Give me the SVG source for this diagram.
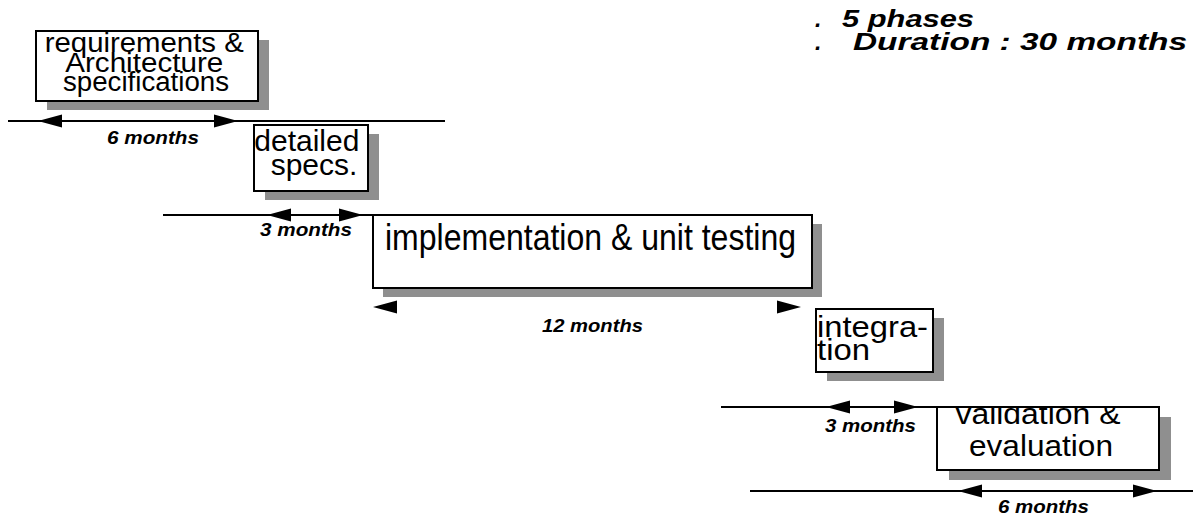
<svg xmlns="http://www.w3.org/2000/svg" width="1193" height="518" viewBox="0 0 1193 518">
  <style>
    .shadow { fill: #8f8f8f; }
    .box { fill: #ffffff; stroke: #000000; stroke-width: 2; }
    .t { font-family: "Liberation Sans", Arial, sans-serif; fill: #000000; }
    .lbl { font-family: "Liberation Sans", Arial, sans-serif; font-weight: bold; font-style: italic; font-size: 18px; fill: #000000; }
    .hdr { font-family: "Liberation Sans", Arial, sans-serif; font-weight: bold; font-style: italic; font-size: 23px; fill: #000000; }
    .ln { stroke: #000000; stroke-width: 2; fill: none; }
  </style>
  <defs>
    <!-- filled arrowhead, tip at origin, pointing right -->
    <path id="ah" d="M0,0 L-24,-6.5 L-24,6.5 Z" fill="#000000"/>
    <!-- the validation box cuts off whatever of its label rises above its top edge -->
    <clipPath id="validation-clip">
      <rect x="930" y="407" width="240" height="70"/>
    </clipPath>
  </defs>

  <rect x="0" y="0" width="1193" height="518" fill="#ffffff"/>

  <!-- summary -->
  <g id="summary">
    <text class="hdr" y="27"><tspan x="815">.</tspan><tspan x="842" textLength="132" lengthAdjust="spacingAndGlyphs">5 phases</tspan></text>
    <text class="hdr" y="50"><tspan x="815">.</tspan><tspan x="853" textLength="334" lengthAdjust="spacingAndGlyphs">Duration : 30 months</tspan></text>
  </g>

  <!-- phase boxes -->
  <g id="requirements">
    <rect class="shadow" x="47" y="40" width="222" height="70"/>
    <rect class="box" x="36" y="31" width="222" height="70"/>
    <text class="t" font-size="27" text-anchor="middle">
      <tspan x="148" y="52" textLength="199" lengthAdjust="spacingAndGlyphs">requirements &amp;</tspan>
      <tspan x="148" y="72" textLength="158" lengthAdjust="spacingAndGlyphs">Architecture</tspan>
      <tspan x="146" y="91" textLength="166" lengthAdjust="spacingAndGlyphs">specifications</tspan>
    </text>
  </g>

  <g id="detailed-specs">
    <rect class="shadow" x="265" y="134" width="114" height="66"/>
    <rect class="box" x="254" y="125" width="114" height="66"/>
    <text class="t" font-size="30" text-anchor="middle">
      <tspan x="311" y="151">detailed</tspan>
      <tspan x="314" y="175">specs.</tspan>
    </text>
  </g>

  <g id="implementation">
    <rect class="shadow" x="383" y="224" width="439" height="73"/>
    <rect class="box" x="373" y="215" width="439" height="73"/>
    <text class="t" font-size="37" x="385" y="250" textLength="411" lengthAdjust="spacingAndGlyphs">implementation &amp; unit testing</text>
  </g>

  <g id="integration">
    <rect class="shadow" x="827" y="318" width="117" height="63"/>
    <rect class="box" x="816" y="309" width="117" height="63"/>
    <text class="t" font-size="29">
      <tspan x="817" y="337" textLength="111" lengthAdjust="spacingAndGlyphs">integra-</tspan>
      <tspan x="817" y="360" textLength="53" lengthAdjust="spacingAndGlyphs">tion</tspan>
    </text>
  </g>

  <g id="validation">
    <rect class="shadow" x="949" y="417" width="222" height="63"/>
    <rect class="box" x="937" y="407" width="222" height="63"/>
    <text class="t" font-size="29" text-anchor="middle" clip-path="url(#validation-clip)">
      <tspan x="1042" y="424" textLength="165" lengthAdjust="spacingAndGlyphs">validation &amp;</tspan>
      <tspan x="1041" y="456" textLength="144" lengthAdjust="spacingAndGlyphs">evaluation</tspan>
    </text>
  </g>

  <!-- duration connectors -->
  <g id="connectors">
    <line class="ln" x1="8" y1="121" x2="445" y2="121"/>
    <use href="#ah" transform="translate(38,121) scale(-1,1)"/>
    <use href="#ah" transform="translate(238,121)"/>
    <text class="lbl" x="107" y="144" textLength="92" lengthAdjust="spacingAndGlyphs">6 months</text>

    <line class="ln" x1="163" y1="215" x2="463" y2="215"/>
    <use href="#ah" transform="translate(267,215) scale(-1,1)"/>
    <use href="#ah" transform="translate(363,215)"/>
    <text class="lbl" x="260" y="236" textLength="92" lengthAdjust="spacingAndGlyphs">3 months</text>

    <use href="#ah" transform="translate(373,307) scale(-1,1)"/>
    <use href="#ah" transform="translate(801,307)"/>
    <text class="lbl" x="542" y="332" textLength="101" lengthAdjust="spacingAndGlyphs">12 months</text>

    <line class="ln" x1="721" y1="407" x2="940" y2="407"/>
    <use href="#ah" transform="translate(826,407) scale(-1,1)"/>
    <use href="#ah" transform="translate(918,407)"/>
    <text class="lbl" x="825" y="432" textLength="91" lengthAdjust="spacingAndGlyphs">3 months</text>

    <line class="ln" x1="750" y1="491" x2="1193" y2="491"/>
    <use href="#ah" transform="translate(958,491) scale(-1,1)"/>
    <use href="#ah" transform="translate(1157,491)"/>
    <text class="lbl" x="998" y="513" textLength="91" lengthAdjust="spacingAndGlyphs">6 months</text>
  </g>
</svg>
